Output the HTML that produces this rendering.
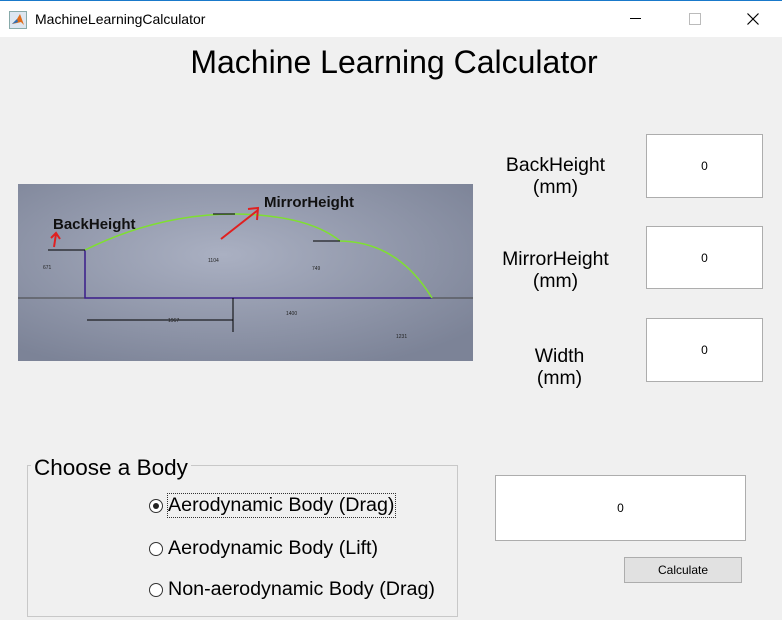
<!DOCTYPE html>
<html><head><meta charset="utf-8"><style>
body{margin:0;width:782px;height:620px;background:#f0f0f0;font-family:"Liberation Sans",Arial,sans-serif;position:relative;overflow:hidden}
.a{position:absolute}
.box{position:absolute;background:#fff;border:1px solid #adadad;box-sizing:border-box;display:flex;align-items:center;justify-content:center;font-size:12px}
.lbl{position:absolute;text-align:center;font-size:19.4px;line-height:22px;color:#000}
.radio{position:absolute;font-size:19.7px;display:flex;align-items:center}
.radio i{display:inline-block;width:14px;height:14px;border:1px solid #333;border-radius:50%;background:#fff;margin-right:5px;box-sizing:border-box;position:relative}
.radio i.on::after{content:"";position:absolute;left:3px;top:3px;width:6px;height:6px;border-radius:50%;background:#222}
</style></head><body>
<div class="a" style="left:0;top:0;width:782px;height:37px;background:#fff;border-top:1px solid #1979ca;box-sizing:border-box">
 <svg class="a" style="left:9px;top:10px" width="18" height="18"><rect x="0.5" y="0.5" width="17" height="17" fill="#dde6f0" stroke="#8aa"/><path d="M3 13 L8 8 L11 3 L15 14 L12 11 L8 12Z" fill="#e06c1a"/><path d="M3 13 L8 8 L9 11Z" fill="#2a6fb8"/></svg>
 <div class="a" style="left:35px;top:10px;font-size:14px">MachineLearningCalculator</div>
 <div class="a" style="left:630px;top:17px;width:11px;height:1px;background:#000"></div>
 <div class="a" style="left:689px;top:12px;width:10px;height:10px;border:1px solid #bbb"></div>
 <svg class="a" style="left:747px;top:12px" width="12" height="12"><path d="M0.5 0.5 L11.5 11.5 M11.5 0.5 L0.5 11.5" stroke="#000" stroke-width="1.2"/></svg>
</div>
<div class="a" style="left:0;width:788px;top:44px;text-align:center;font-size:32px">Machine Learning Calculator</div>
<svg class="a" style="left:18px;top:184px" width="455" height="177">
 <defs><radialGradient id="g" cx="45%" cy="40%" r="70%"><stop offset="0" stop-color="#aab0c2"/><stop offset="1" stop-color="#7c8397"/></radialGradient></defs>
 <rect width="455" height="177" fill="url(#g)"/>
 <line x1="0" y1="114" x2="455" y2="114" stroke="#444"/>
 <path d="M67 66 V114 H414" fill="none" stroke="#3a1c8a" stroke-width="1.5"/>
 <path d="M67 66 Q140 30 217 30 Q290 31 322 57 Q380 58 414 114" fill="none" stroke="#7fe030" stroke-width="1.5"/>
 <path d="M30 66 H67 M195 30 H217 M295 57 H322 M69 136 H215" stroke="#000"/>
 <path d="M215 114 V148" stroke="#000"/>
 <text x="35" y="45" font-size="15" font-weight="bold" fill="#111">BackHeight</text>
 <text x="246" y="23" font-size="15" font-weight="bold" fill="#111">MirrorHeight</text>
 <path d="M36 63 L38 50 M33 54 L38 49 L42 55" stroke="#e02020" stroke-width="2" fill="none"/>
 <path d="M203 55 L240 26 M230 25 L240 24 L239 36" stroke="#e02020" stroke-width="2" fill="none"/>
 <text x="25" y="85" font-size="5" fill="#222">671</text><text x="190" y="78" font-size="5" fill="#222">1104</text><text x="294" y="86" font-size="5" fill="#222">749</text><text x="268" y="131" font-size="5" fill="#222">1400</text><text x="150" y="138" font-size="5" fill="#222">1967</text><text x="378" y="154" font-size="5" fill="#222">1231</text>
</svg>
<div class="lbl" style="left:488px;top:154px;width:135px">BackHeight<br>(mm)</div>
<div class="lbl" style="left:488px;top:248px;width:135px">MirrorHeight<br>(mm)</div>
<div class="lbl" style="left:492px;top:345px;width:135px">Width<br>(mm)</div>
<div class="box" style="left:646px;top:134px;width:117px;height:64px">0</div>
<div class="box" style="left:646px;top:226px;width:117px;height:63px">0</div>
<div class="box" style="left:646px;top:318px;width:117px;height:64px">0</div>
<div class="box" style="left:495px;top:475px;width:251px;height:66px">0</div>
<div class="box" style="left:624px;top:557px;width:118px;height:26px;background:#e1e1e1">Calculate</div>
<div class="a" style="left:27px;top:465px;width:431px;height:152px;border:1px solid #c8c8c8;box-sizing:border-box"></div>
<div class="a" style="left:31px;top:455px;background:#f0f0f0;padding:0 3px;font-size:22.5px">Choose a Body</div>
<div class="radio" style="left:149px;top:494px"><i class="on"></i><span style="outline:1px dotted #333">Aerodynamic Body (Drag)</span></div>
<div class="radio" style="left:149px;top:537px"><i></i>Aerodynamic Body (Lift)</div>
<div class="radio" style="left:149px;top:578px"><i></i>Non-aerodynamic Body (Drag)</div>
</body></html>
